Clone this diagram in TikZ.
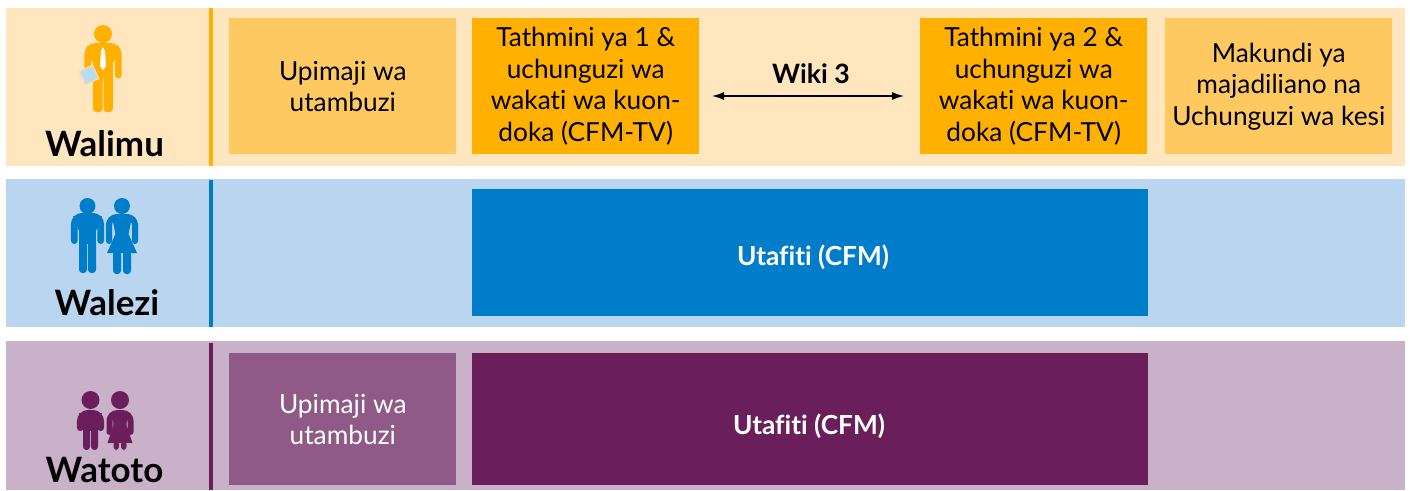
\documentclass[tikz,border=0pt]{standalone}
\usepackage{fontspec}
\usetikzlibrary{arrows.meta}
\setmainfont[Ligatures=CommonOff]{Lato}
\definecolor{oL}{HTML}{FFE6BF}\definecolor{oS}{HTML}{FFB000}\definecolor{oM}{HTML}{FDC960}
\definecolor{bL}{HTML}{BAD5F0}\definecolor{bS}{HTML}{007DC9}
\definecolor{pL}{HTML}{C9B1C9}\definecolor{pS}{HTML}{6A1E5A}\definecolor{pM}{HTML}{8F5A87}
\definecolor{tabl}{HTML}{BAD9F2}\definecolor{tabb}{HTML}{F5DDB0}
\newcommand{\figman}[9]{% col, cx, headY, r, shoulderY, armHalf, armBottom, legBottom, legHalf
 \fill[#1] (#2,#3) circle (#4*0.75pt);
 \draw[#1,line width=5pt,line cap=round,rounded corners=6pt] (#2-#6+3.3,#7-3.3) -- (#2-#6+3.3,#5+3.3) -- (#2+#6-3.3,#5+3.3) -- (#2+#6-3.3,#7-3.3);
 \fill[#1] (#2-#6+2,#5+3) -- (#2+#6-2,#5+3) -- (#2+#9+0.5,{#5+0.55*(#7-#5)}) -- (#2-#9-0.5,{#5+0.55*(#7-#5)}) -- cycle;
 \fill[#1] (#2-#9,#5+3) rectangle (#2+#9,#7);
 \fill[#1,rounded corners=2.5pt] (#2-#9,#7-4) rectangle (#2-0.5,#8);
 \fill[#1,rounded corners=2.5pt] (#2+0.5,#7-4) rectangle (#2+#9,#8);
}
\newcommand{\figwoman}[9]{% col, cx, headY, r, shoulderY, armHalf, armBottom, skirtBottom, legBottom
 \fill[#1] (#2,#3) circle (#4*0.75pt);
 \draw[#1,line width=4.5pt,line cap=round,rounded corners=6pt] (#2-#6+3,#7-3) -- (#2-#6+3,#5+3) -- (#2+#6-3,#5+3) -- (#2+#6-3,#7-3);
 \fill[#1] (#2-#6+6,#5+3) -- (#2+#6-6,#5+3) -- (#2+6.5,#7-10) -- (#2+#6-1,#8) -- (#2-#6+1,#8) -- (#2-6.5,#7-10) -- cycle;
 \fill[#1,rounded corners=2.5pt] (#2-#6+7,#8-2) rectangle (#2-1,#9);
 \fill[#1,rounded corners=2.5pt] (#2+1,#8-2) rectangle (#2+#6-7,#9);
}
\tikzset{
 x=0.75pt,y=-0.75pt,
 blk/.style={draw=none,inner sep=0pt,anchor=north west,align=center,font=\fontsize{19.7}{23.6}\selectfont,text=black},
 stepdark/.style={blk,fill=oS},
 stepmid/.style={blk,fill=oM},
 who/.style={font=\fontsize{26.2}{30}\selectfont\bfseries,text=black,inner sep=0pt},
 boldwhite/.style={font=\fontsize{19.7}{24}\selectfont\bfseries,text=white,inner sep=0pt},
 divider/.style={line width=3pt},
}
\begin{document}
\begin{tikzpicture}
\useasboundingbox (0,0) rectangle (1410,490);
\fill[white] (0,0) rectangle (1410,490);
% bands
\fill[oL] (6,8) rectangle (1405,166);
\fill[bL] (6,179) rectangle (1405,327);
\fill[pL] (6,341) rectangle (1405,490);
\coordinate (d1a) at (211,8); \coordinate (d1b) at (211,166);
\coordinate (d2a) at (211,180); \coordinate (d2b) at (211,327);
\coordinate (d3a) at (211,343); \coordinate (d3b) at (211,490);
\draw[divider,oS] (d1a) -- (d1b);
\draw[divider,bS] (d2a) -- (d2b);
\draw[divider,pS] (d3a) -- (d3b);
% boxes
\node[stepmid,minimum width=170.25pt,minimum height=102pt] (a1) at (229,18) {Upimaji wa\\utambuzi};
\node[stepdark,minimum width=170.25pt,minimum height=102pt] (a2) at (472,18) {Tathmini ya 1 \&\\uchunguzi wa\\wakati wa kuon-\\doka (CFM-TV)};
\node[stepdark,minimum width=170.25pt,minimum height=102pt] (a3) at (920,18) {Tathmini ya 2 \&\\uchunguzi wa\\wakati wa kuon-\\doka (CFM-TV)};
\node[stepmid,minimum width=170.25pt,minimum height=102pt] (a4) at (1165,18) {Makundi ya\\majadiliano na\\Uchunguzi wa kesi};
\fill[bS] (472,189) rectangle (1148,316);
\node[boldwhite] (b1) at (813,257) {Utafiti (CFM)};
\node[blk,fill=pM,text=white,minimum width=170.25pt,minimum height=99pt] (c1) at (229,353) {Upimaji wa\\utambuzi};
\fill[pS] (472,353) rectangle (1148,485);
\node[boldwhite] (c2) at (809,426) {Utafiti (CFM)};
% arrow
\node[font=\fontsize{20}{24}\selectfont\bfseries,inner sep=0pt] (w) at (811,74) {Wiki 3};
\coordinate (al) at (712,96); \coordinate (ar) at (904,96);
\draw[{Latex[length=9pt,width=6pt]}-{Latex[length=9pt,width=6pt]},line width=1pt] (al) -- (ar);
% labels
\node[who] (t1) at (104.5,144) {Walimu};
\node[who] (t2) at (107,303) {Walezi};
\node[who] (t3) at (104.5,470) {Watoto};
% teacher
\figman{oS}{103}{34}{9}{43}{18.5}{78.5}{112}{10}
\fill[white] (103,47) -- (105,51) -- (106,66) -- (103,70) -- (100,66) -- (101,51) -- cycle;
\fill[tabb,rotate around={25:(89,75)}] (81,67) rectangle (97,83);
\fill[tabl,rotate around={25:(89,75)}] (82.5,68.5) rectangle (95.5,81.5);
% parents
\figman{bS}{87.5}{206}{8}{213}{16.5}{244}{273}{8.5}
\figwoman{bS}{122}{206}{8}{214}{16}{244}{253}{274}
% children
\figman{pS}{90.5}{400}{9}{410}{13.5}{431}{450}{7.5}
\figwoman{pS}{120}{400}{9}{410}{13.5}{435}{443}{450}
\end{tikzpicture}
\end{document}
